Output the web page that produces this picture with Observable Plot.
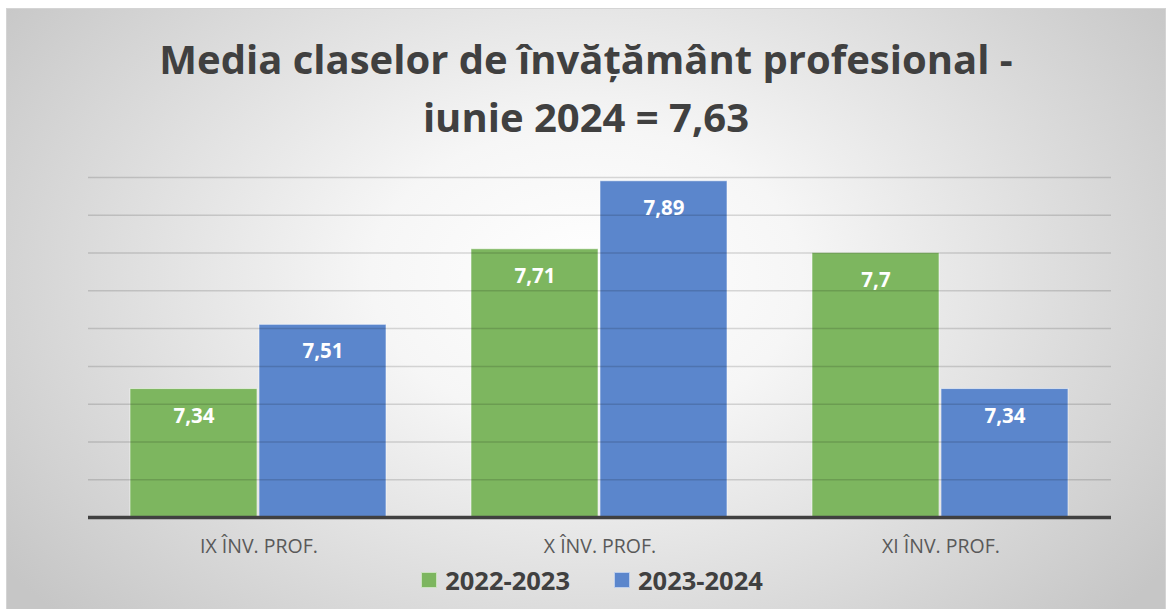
<!DOCTYPE html>
<html>
<head>
<meta charset="utf-8">
<script src="https://cdn.jsdelivr.net/npm/d3@7"></script>
<script src="https://cdn.jsdelivr.net/npm/@observablehq/plot@0.6"></script>
<style>
  html, body { margin: 0; padding: 0; background: #ffffff; }
  #card {
    position: absolute; left: 6px; top: 8px; width: 1160px; height: 640px;
    border: 1px solid #d4d4d4; box-sizing: border-box; overflow: hidden;
    background: radial-gradient(ellipse 62% 78% at 50% 42%, #ffffff 0%, #f6f6f6 30%, #c6c6c6 100%);
    font-family: "Open Sans", Lato, sans-serif;
  }
  #title {
    position: absolute; left: 0; width: 100%; top: 21px; text-align: center;
    font-size: 40px; font-weight: 700; color: #404040; line-height: 58px;
  }
  #chart { position: absolute; left: 0; top: 131px; }
  #legend {
    position: absolute; left: 6px; width: 100%; top: 549px; display: flex; justify-content: center;
    gap: 44px; font-size: 25.5px; font-weight: 700; color: #404040; line-height: 44px;
  }
  .item { display: flex; align-items: center; gap: 8px; }
  .sw { width: 16px; height: 16px; box-sizing: border-box; border: 1px solid rgba(255,255,255,0.6); }
</style>
</head>
<body>
<div id="card">
  <div id="title">Media claselor de învățământ profesional -<br>iunie 2024 = 7,63</div>
  <div id="chart"></div>
  <div id="legend"></div>
</div>
<script>
const categories = ["IX ÎNV. PROF.", "X ÎNV. PROF.", "XI ÎNV. PROF."];
const series = ["2022-2023", "2023-2024"];
const values2022_2023 = [7.34, 7.71, 7.7];
const values2023_2024 = [7.51, 7.89, 7.34];
const yTicks = [7.0, 7.1, 7.2, 7.3, 7.4, 7.5, 7.6, 7.7, 7.8, 7.9];
const colors = ["#7db65f", "#5b86cc"];
const yBase = 7.0;

const data = [];
categories.forEach((c, i) => {
  data.push({cat: c, series: series[0], value: values2022_2023[i]});
  data.push({cat: c, series: series[1], value: values2023_2024[i]});
});

const plot = Plot.plot({
  width: 1158,
  height: 430,
  marginTop: 37,
  marginBottom: 53,
  marginLeft: 80,
  marginRight: 54,
  style: {background: "transparent", fontFamily: "'Open Sans', Lato, sans-serif", overflow: "visible"},
  fx: {domain: categories, padding: 0, label: null, axis: null},
  x: {domain: series, paddingInner: 0.0154, paddingOuter: 0.323, axis: null},
  y: {domain: [7.0, 7.9], axis: null},
  color: {domain: series, range: colors},
  marks: [
    Plot.barY(data, {
      fx: "cat", x: "series", y1: () => yBase, y2: "value", fill: "series",
      stroke: "#ffffff", strokeOpacity: 0.55, strokeWidth: 1
    }),
    Plot.ruleY(yTicks, {stroke: "#000000", strokeOpacity: 0.14, strokeWidth: 1.5}),
    Plot.ruleY([yBase], {stroke: "#404040", strokeWidth: 3.5}),
    Plot.text(data, {
      fx: "cat", x: "series", y: "value", text: d => String(d.value).replace(".", ","),
      dy: 27, fill: "#ffffff", fontWeight: 700, fontSize: 20.5
    }),
    Plot.axisFx({anchor: "bottom", domain: categories, tickSize: 0, tickPadding: 22, fontSize: 19.5, label: null, color: "#595959"})
  ]
});
document.getElementById("chart").appendChild(plot);

const legend = document.getElementById("legend");
series.forEach((s, i) => {
  const item = document.createElement("div");
  item.className = "item";
  const sw = document.createElement("div");
  sw.className = "sw";
  sw.style.background = colors[i];
  const t = document.createElement("span");
  t.textContent = s;
  item.appendChild(sw);
  item.appendChild(t);
  legend.appendChild(item);
});
</script>
</body>
</html>
